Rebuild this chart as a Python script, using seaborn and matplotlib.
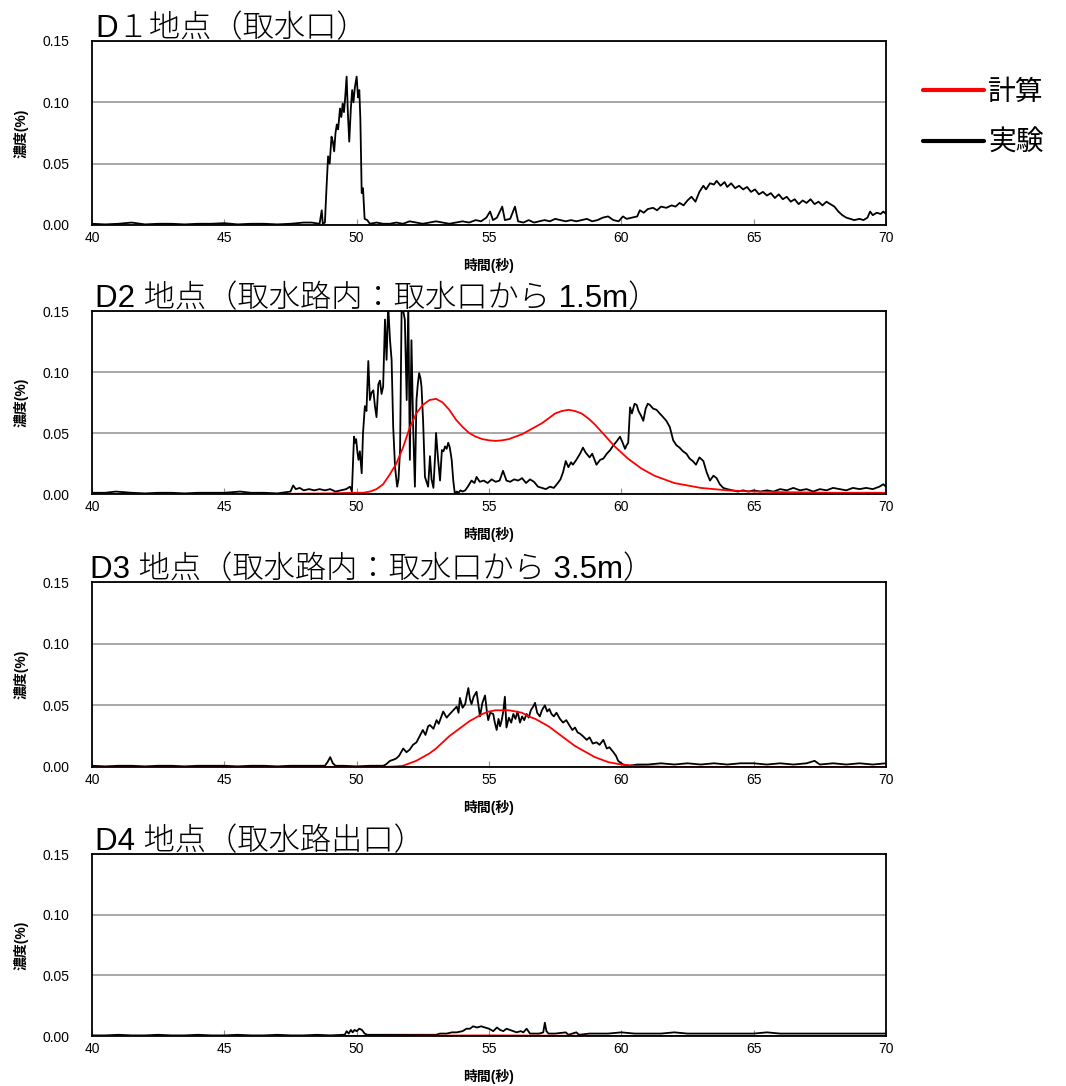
import numpy as np
import pandas as pd
import matplotlib
matplotlib.use("Agg")
import matplotlib.pyplot as plt
import seaborn as sns

sns.set_style("white")
plt.rcParams['font.family'] = ['Liberation Sans', 'Noto Sans CJK JP', 'DejaVu Sans']
plt.rcParams['text.color'] = 'black'
plt.rcParams['axes.labelcolor'] = 'black'
plt.rcParams['xtick.color'] = 'black'
plt.rcParams['ytick.color'] = 'black'

titles = ["D１地点（取水口）",
          "D2 地点（取水路内：取水口から 1.5m）",
          "D3 地点（取水路内：取水口から 3.5m）",
          "D4 地点（取水路出口）"]
x_ticks = [40, 45, 50, 55, 60, 65, 70]
y_ticks = [0.00, 0.05, 0.10, 0.15]

# experiment (実験) -- (time s, concentration %)
d1_exp = [(40.0, 0.001), (40.5, 0.0005), (41.0, 0.001), (41.5, 0.002), (42.0, 0.0005), (42.5, 0.001),
          (43.0, 0.001), (43.5, 0.0005), (44.0, 0.001), (44.5, 0.001), (45.0, 0.0015), (45.5, 0.0005),
          (46.0, 0.001), (46.5, 0.001), (47.0, 0.0005), (47.5, 0.001), (48.0, 0.002), (48.3, 0.002),
          (48.6, 0.001), (48.68, 0.012), (48.72, 0.001), (48.8, 0.002), (48.86, 0.030), (48.92, 0.056),
          (48.98, 0.050), (49.05, 0.072), (49.1, 0.068), (49.15, 0.060), (49.2, 0.075), (49.25, 0.082),
          (49.3, 0.078), (49.37, 0.095), (49.42, 0.088), (49.47, 0.099), (49.52, 0.092), (49.57, 0.105),
          (49.62, 0.121), (49.67, 0.090), (49.72, 0.068), (49.78, 0.095), (49.83, 0.110), (49.88, 0.100),
          (49.93, 0.112), (50.0, 0.121), (50.05, 0.104), (50.1, 0.110), (50.14, 0.086), (50.19, 0.026),
          (50.24, 0.030), (50.3, 0.005), (50.4, 0.004), (50.5, 0.001), (50.75, 0.002), (51.0, 0.001),
          (51.25, 0.001), (51.5, 0.002), (51.75, 0.001), (52.0, 0.003), (52.25, 0.002), (52.5, 0.001),
          (52.75, 0.002), (53.0, 0.003), (53.25, 0.002), (53.5, 0.001), (53.75, 0.002), (54.0, 0.003),
          (54.25, 0.002), (54.5, 0.004), (54.7, 0.003), (54.9, 0.006), (55.04, 0.011), (55.15, 0.004),
          (55.3, 0.006), (55.5, 0.015), (55.6, 0.004), (55.8, 0.005), (55.98, 0.015), (56.1, 0.003),
          (56.3, 0.002), (56.5, 0.004), (56.7, 0.002), (56.9, 0.003), (57.1, 0.004), (57.3, 0.003),
          (57.5, 0.005), (57.7, 0.004), (57.9, 0.003), (58.1, 0.004), (58.3, 0.003), (58.5, 0.004),
          (58.7, 0.005), (58.9, 0.003), (59.1, 0.004), (59.3, 0.006), (59.5, 0.007), (59.7, 0.004),
          (59.9, 0.003), (60.06, 0.007), (60.2, 0.005), (60.4, 0.006), (60.6, 0.007), (60.7, 0.012),
          (60.85, 0.010), (61.0, 0.013), (61.2, 0.014), (61.35, 0.012), (61.5, 0.015), (61.7, 0.014),
          (61.9, 0.016), (62.05, 0.015), (62.2, 0.018), (62.35, 0.016), (62.5, 0.020), (62.65, 0.023),
          (62.8, 0.019), (62.95, 0.027), (63.1, 0.032), (63.2, 0.029), (63.35, 0.034), (63.5, 0.033),
          (63.6, 0.036), (63.75, 0.032), (63.9, 0.035), (64.0, 0.031), (64.15, 0.034), (64.3, 0.030),
          (64.45, 0.032), (64.6, 0.029), (64.75, 0.031), (64.9, 0.027), (65.05, 0.029), (65.2, 0.025),
          (65.35, 0.027), (65.5, 0.024), (65.65, 0.026), (65.8, 0.022), (65.95, 0.025), (66.1, 0.021),
          (66.25, 0.023), (66.4, 0.019), (66.55, 0.021), (66.7, 0.017), (66.85, 0.020), (67.0, 0.018),
          (67.15, 0.021), (67.3, 0.017), (67.45, 0.019), (67.6, 0.016), (67.75, 0.019), (67.9, 0.017),
          (68.05, 0.015), (68.2, 0.011), (68.35, 0.008), (68.5, 0.006), (68.65, 0.005), (68.8, 0.004),
          (69.0, 0.005), (69.15, 0.004), (69.3, 0.006), (69.4, 0.011), (69.5, 0.008), (69.65, 0.010),
          (69.8, 0.009), (69.9, 0.011), (70.0, 0.009)]

d2_exp = [(40.0, 0.001), (40.5, 0.001), (40.9, 0.002), (41.5, 0.001), (42.0, 0.0005), (42.5, 0.001),
          (43.0, 0.001), (43.5, 0.0005), (44.0, 0.001), (44.5, 0.001), (45.0, 0.001), (45.6, 0.002),
          (46.0, 0.001), (46.5, 0.001), (47.0, 0.0005), (47.5, 0.002), (47.6, 0.007), (47.7, 0.004),
          (47.85, 0.005), (48.0, 0.003), (48.2, 0.004), (48.4, 0.003), (48.6, 0.004), (48.8, 0.003),
          (49.0, 0.004), (49.2, 0.002), (49.4, 0.003), (49.6, 0.004), (49.75, 0.006), (49.82, 0.002),
          (49.87, 0.030), (49.9, 0.047), (49.94, 0.042), (49.98, 0.045), (50.03, 0.034), (50.07, 0.028),
          (50.12, 0.035), (50.19, 0.017), (50.24, 0.050), (50.31, 0.072), (50.37, 0.068), (50.44, 0.109),
          (50.5, 0.077), (50.56, 0.083), (50.63, 0.085), (50.69, 0.072), (50.75, 0.063), (50.82, 0.090),
          (50.88, 0.093), (50.94, 0.082), (51.0, 0.088), (51.07, 0.143), (51.13, 0.110), (51.19, 0.155),
          (51.26, 0.126), (51.32, 0.110), (51.38, 0.055), (51.45, 0.022), (51.53, 0.006), (51.58, 0.012),
          (51.64, 0.036), (51.7, 0.155), (51.76, 0.150), (51.82, 0.143), (51.89, 0.077), (51.95, 0.155),
          (52.01, 0.028), (52.07, 0.126), (52.14, 0.050), (52.2, 0.006), (52.26, 0.077), (52.31, 0.090),
          (52.36, 0.099), (52.41, 0.095), (52.45, 0.088), (52.51, 0.060), (52.58, 0.014), (52.64, 0.010),
          (52.7, 0.006), (52.77, 0.031), (52.83, 0.012), (52.9, 0.005), (52.96, 0.030), (53.0, 0.050),
          (53.07, 0.030), (53.15, 0.011), (53.22, 0.036), (53.28, 0.035), (53.34, 0.039), (53.4, 0.037),
          (53.46, 0.042), (53.52, 0.038), (53.59, 0.028), (53.65, 0.011), (53.71, 0.000), (53.78, 0.002),
          (53.85, 0.001), (53.92, 0.003), (54.0, 0.002), (54.1, 0.003), (54.2, 0.006), (54.34, 0.011),
          (54.45, 0.009), (54.53, 0.014), (54.65, 0.010), (54.8, 0.011), (54.95, 0.009), (55.1, 0.012),
          (55.25, 0.010), (55.4, 0.011), (55.53, 0.019), (55.66, 0.011), (55.8, 0.010), (55.95, 0.012),
          (56.1, 0.011), (56.25, 0.013), (56.4, 0.009), (56.55, 0.012), (56.7, 0.010), (56.85, 0.006),
          (57.0, 0.005), (57.15, 0.004), (57.3, 0.006), (57.45, 0.005), (57.6, 0.009), (57.7, 0.012),
          (57.8, 0.018), (57.9, 0.027), (58.0, 0.022), (58.1, 0.026), (58.17, 0.024), (58.3, 0.028),
          (58.44, 0.033), (58.55, 0.038), (58.65, 0.034), (58.8, 0.030), (58.9, 0.033), (59.06, 0.024),
          (59.2, 0.028), (59.32, 0.029), (59.45, 0.033), (59.58, 0.036), (59.7, 0.040), (59.82, 0.043),
          (59.95, 0.047), (60.05, 0.042), (60.14, 0.037), (60.2, 0.040), (60.26, 0.042), (60.33, 0.071),
          (60.4, 0.066), (60.5, 0.074), (60.58, 0.073), (60.65, 0.068), (60.75, 0.064), (60.83, 0.060),
          (60.92, 0.070), (61.0, 0.074), (61.08, 0.073), (61.2, 0.070), (61.33, 0.069), (61.45, 0.066),
          (61.58, 0.063), (61.7, 0.060), (61.83, 0.055), (61.96, 0.044), (62.08, 0.040), (62.2, 0.038),
          (62.33, 0.035), (62.46, 0.033), (62.58, 0.029), (62.7, 0.027), (62.82, 0.024), (62.95, 0.030),
          (63.1, 0.027), (63.22, 0.018), (63.35, 0.011), (63.48, 0.015), (63.6, 0.013), (63.72, 0.008),
          (63.85, 0.005), (64.0, 0.004), (64.2, 0.003), (64.4, 0.002), (64.6, 0.003), (64.8, 0.002),
          (65.0, 0.003), (65.25, 0.002), (65.5, 0.003), (65.75, 0.002), (66.0, 0.004), (66.25, 0.003),
          (66.5, 0.005), (66.75, 0.003), (67.0, 0.004), (67.25, 0.002), (67.5, 0.004), (67.75, 0.003),
          (68.0, 0.005), (68.25, 0.004), (68.5, 0.003), (68.75, 0.005), (69.0, 0.004), (69.25, 0.005),
          (69.5, 0.004), (69.75, 0.006), (69.9, 0.008), (70.0, 0.006)]

d3_exp = [(40.0, 0.001), (40.5, 0.0005), (41.0, 0.001), (41.5, 0.001), (42.0, 0.0005), (42.5, 0.001),
          (43.0, 0.001), (43.5, 0.0005), (44.0, 0.001), (44.5, 0.001), (45.0, 0.001), (45.5, 0.0005),
          (46.0, 0.001), (46.5, 0.001), (47.0, 0.0005), (47.5, 0.001), (48.0, 0.001), (48.5, 0.001),
          (48.8, 0.001), (48.9, 0.004), (49.0, 0.008), (49.1, 0.003), (49.2, 0.001), (49.5, 0.001),
          (50.0, 0.0005), (50.5, 0.001), (51.0, 0.001), (51.1, 0.002), (51.26, 0.005), (51.4, 0.006),
          (51.5, 0.007), (51.6, 0.009), (51.76, 0.015), (51.88, 0.012), (52.0, 0.014), (52.13, 0.018),
          (52.26, 0.020), (52.38, 0.025), (52.5, 0.030), (52.6, 0.026), (52.7, 0.033), (52.77, 0.034),
          (52.9, 0.031), (53.02, 0.038), (53.1, 0.035), (53.2, 0.041), (53.27, 0.045), (53.4, 0.040),
          (53.52, 0.043), (53.65, 0.046), (53.78, 0.049), (53.85, 0.044), (53.9, 0.056), (54.0, 0.048),
          (54.1, 0.051), (54.16, 0.058), (54.22, 0.064), (54.28, 0.055), (54.34, 0.051), (54.42, 0.057),
          (54.53, 0.061), (54.6, 0.050), (54.66, 0.041), (54.75, 0.052), (54.85, 0.058), (54.92, 0.045),
          (54.97, 0.038), (55.05, 0.044), (55.16, 0.043), (55.22, 0.036), (55.29, 0.030), (55.36, 0.039),
          (55.42, 0.033), (55.48, 0.038), (55.54, 0.045), (55.6, 0.057), (55.66, 0.032), (55.75, 0.040),
          (55.84, 0.036), (55.92, 0.043), (56.0, 0.039), (56.08, 0.045), (56.17, 0.036), (56.25, 0.041),
          (56.33, 0.038), (56.42, 0.043), (56.5, 0.040), (56.58, 0.046), (56.67, 0.049), (56.74, 0.052),
          (56.82, 0.044), (56.92, 0.041), (57.0, 0.046), (57.11, 0.050), (57.2, 0.045), (57.28, 0.047),
          (57.36, 0.043), (57.45, 0.041), (57.55, 0.044), (57.68, 0.039), (57.8, 0.036), (57.92, 0.038),
          (58.06, 0.033), (58.15, 0.030), (58.25, 0.032), (58.35, 0.028), (58.44, 0.027), (58.55, 0.025),
          (58.69, 0.022), (58.8, 0.024), (58.92, 0.019), (59.06, 0.020), (59.18, 0.018), (59.32, 0.022),
          (59.45, 0.015), (59.55, 0.016), (59.7, 0.012), (59.8, 0.009), (59.88, 0.005), (60.0, 0.003),
          (60.07, 0.002), (60.3, 0.001), (60.6, 0.002), (61.0, 0.002), (61.5, 0.003), (62.0, 0.002),
          (62.5, 0.003), (63.0, 0.002), (63.5, 0.003), (64.0, 0.002), (64.5, 0.003), (65.0, 0.003),
          (65.5, 0.002), (66.0, 0.003), (66.5, 0.002), (67.0, 0.003), (67.3, 0.005), (67.5, 0.002),
          (68.0, 0.003), (68.5, 0.002), (69.0, 0.003), (69.5, 0.002), (70.0, 0.003)]

d4_exp = [(40.0, 0.0005), (40.5, 0.0005), (41.0, 0.001), (41.5, 0.0005), (42.0, 0.0005), (42.5, 0.001),
          (43.0, 0.0005), (43.5, 0.0005), (44.0, 0.001), (44.5, 0.0005), (45.0, 0.0005), (45.5, 0.001),
          (46.0, 0.0005), (46.5, 0.0005), (47.0, 0.001), (47.5, 0.0005), (48.0, 0.0005), (48.5, 0.001),
          (49.0, 0.0005), (49.5, 0.001), (49.55, 0.001), (49.62, 0.004), (49.7, 0.002), (49.78, 0.005),
          (49.85, 0.003), (49.92, 0.005), (50.0, 0.004), (50.1, 0.006), (50.2, 0.005), (50.3, 0.002),
          (50.4, 0.001), (51.0, 0.001), (51.5, 0.001), (52.0, 0.001), (52.5, 0.001), (53.0, 0.001),
          (53.15, 0.002), (53.4, 0.002), (53.6, 0.003), (53.78, 0.003), (54.0, 0.004), (54.15, 0.006),
          (54.28, 0.006), (54.4, 0.008), (54.55, 0.007), (54.7, 0.008), (54.85, 0.007), (55.0, 0.006),
          (55.16, 0.004), (55.3, 0.007), (55.42, 0.005), (55.54, 0.004), (55.66, 0.006), (55.79, 0.005),
          (55.92, 0.004), (56.04, 0.003), (56.2, 0.004), (56.3, 0.003), (56.42, 0.006), (56.55, 0.002),
          (56.7, 0.002), (56.9, 0.002), (57.05, 0.003), (57.11, 0.011), (57.17, 0.004), (57.25, 0.002),
          (57.5, 0.002), (57.9, 0.003), (58.0, 0.001), (58.3, 0.003), (58.4, 0.001), (58.8, 0.002),
          (59.1, 0.002), (59.5, 0.002), (60.0, 0.003), (60.5, 0.002), (61.0, 0.002), (61.5, 0.002),
          (62.0, 0.003), (62.5, 0.002), (63.0, 0.002), (63.5, 0.002), (64.0, 0.002), (64.5, 0.002),
          (65.0, 0.002), (65.5, 0.003), (66.0, 0.002), (66.5, 0.002), (67.0, 0.002), (67.5, 0.002),
          (68.0, 0.002), (68.5, 0.002), (69.0, 0.002), (69.5, 0.002), (70.0, 0.002)]

# calculation (計算)
d2_calc = [(40.0, 0.0), (47.0, 0.0), (48.0, 0.0003), (49.0, 0.0005), (49.5, 0.0008), (50.0, 0.001),
           (50.25, 0.001), (50.5, 0.002), (50.75, 0.004), (51.0, 0.008), (51.25, 0.016), (51.5, 0.025),
           (51.75, 0.038), (52.0, 0.054), (52.25, 0.066), (52.5, 0.073), (52.75, 0.077), (53.0, 0.078),
           (53.25, 0.075), (53.5, 0.069), (53.75, 0.061), (54.0, 0.055), (54.25, 0.050), (54.5, 0.047),
           (54.75, 0.045), (55.0, 0.044), (55.25, 0.0435), (55.5, 0.044), (55.75, 0.045), (56.0, 0.047),
           (56.25, 0.049), (56.5, 0.052), (56.75, 0.055), (57.0, 0.058), (57.25, 0.062), (57.5, 0.066),
           (57.75, 0.068), (58.0, 0.069), (58.25, 0.068), (58.5, 0.066), (58.75, 0.062), (59.0, 0.057),
           (59.25, 0.051), (59.5, 0.045), (59.75, 0.039), (60.0, 0.034), (60.25, 0.029), (60.5, 0.025),
           (60.75, 0.021), (61.0, 0.018), (61.25, 0.015), (61.5, 0.013), (61.75, 0.011), (62.0, 0.009),
           (62.5, 0.007), (63.0, 0.005), (63.5, 0.004), (64.0, 0.003), (65.0, 0.002), (66.0, 0.0015),
           (68.0, 0.001), (70.0, 0.001)]

d3_calc = [(40.0, 0.0), (51.0, 0.0), (51.5, 0.0005), (51.75, 0.001), (52.0, 0.003), (52.25, 0.005),
           (52.5, 0.008), (52.75, 0.011), (53.0, 0.015), (53.25, 0.020), (53.5, 0.025), (53.75, 0.029),
           (54.0, 0.033), (54.25, 0.037), (54.5, 0.040), (54.75, 0.043), (55.0, 0.045), (55.25, 0.046),
           (55.5, 0.046), (55.75, 0.046), (56.0, 0.045), (56.25, 0.044), (56.5, 0.041), (56.75, 0.039),
           (57.0, 0.036), (57.25, 0.033), (57.5, 0.029), (57.75, 0.025), (58.0, 0.021), (58.25, 0.017),
           (58.5, 0.014), (58.75, 0.011), (59.0, 0.008), (59.25, 0.006), (59.5, 0.004), (59.75, 0.003),
           (60.0, 0.002), (60.5, 0.001), (61.0, 0.0005), (62.0, 0.0), (70.0, 0.0)]

d4_calc = [(40.0, 0.0), (50.0, 0.0), (55.0, 0.0005), (60.0, 0.0), (70.0, 0.0)]

panels = [(d1_exp, None), (d2_exp, d2_calc), (d3_exp, d3_calc), (d4_exp, d4_calc)]

W, H = 1066, 1086
fig = plt.figure(figsize=(W / 100, H / 100), dpi=100)
tops = [41, 311, 582, 854]
bottoms = [225, 494, 767, 1036]
title_x = [95, 95, 90, 95]

for i, (exp, calc) in enumerate(panels):
    ax = fig.add_axes([92 / W, 1 - bottoms[i] / H, 794 / W, (bottoms[i] - tops[i]) / H])
    de = pd.DataFrame(exp, columns=["t", "c"])
    sns.lineplot(data=de, x="t", y="c", ax=ax, color="black", linewidth=1.3, label="実験")
    if calc is not None:
        dc = pd.DataFrame(calc, columns=["t", "c"])
        sns.lineplot(data=dc, x="t", y="c", ax=ax, color="#ff0000", linewidth=1.3, label="計算")
    if ax.get_legend() is not None:
        ax.get_legend().remove()
    ax.set_xlim(40, 70)
    ax.set_ylim(0, 0.15)
    ax.set_xticks(x_ticks)
    ax.set_yticks(y_ticks)
    ax.set_yticklabels([f"{v:.2f}" for v in y_ticks])
    ax.grid(axis="y", color="#a0a0a0", linewidth=1.3)
    ax.grid(axis="x", visible=False)
    for s in ax.spines.values():
        s.set_color("black")
        s.set_linewidth(1.3)
    ax.tick_params(axis="x", direction="in", length=4, color="#909090", labelcolor="black",
                   labelsize=10, pad=4, bottom=True)
    ax.tick_params(axis="y", length=0, labelsize=10, pad=16, labelcolor="black")
    ax.set_xlabel("時間(秒)", fontsize=10, fontweight="bold", color="black")
    ax.set_ylabel("濃度(%)", fontsize=10, fontweight="bold", color="black")
    ax.xaxis.set_label_coords(0.5, -0.18)
    ax.yaxis.set_label_coords(-0.08, 0.5)
    fig.text(title_x[i] / W, 1 - (tops[i] - 4) / H, titles[i], fontsize=22.5, color="black",
             ha="left", va="baseline", fontweight="light",
             family=['Liberation Sans', 'Noto Sans CJK JP'])
    if i == 1:
        handles, labels = ax.get_legend_handles_labels()

order = [labels.index("計算"), labels.index("実験")]
leg = fig.legend([handles[k] for k in order], [labels[k] for k in order],
                 loc="upper left", bbox_to_anchor=(898 / W, 1 - 52 / H), frameon=False,
                 handlelength=2.2, handletextpad=0.15, labelspacing=0.75,
                 prop={"family": ['Noto Sans CJK JP'], "size": 20})
for ln in leg.get_lines():
    ln.set_linewidth(3)
for t in leg.get_texts():
    t.set_color("black")

fig.savefig("out.png", dpi=100)
